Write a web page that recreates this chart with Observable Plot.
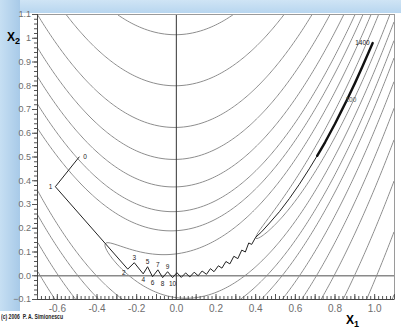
<!DOCTYPE html>
<html><head><meta charset="utf-8">
<script src="https://cdn.jsdelivr.net/npm/d3@7"></script>
<script src="https://cdn.jsdelivr.net/npm/@observablehq/plot@0.6"></script>
<style>
body{margin:0;background:#fff;}
#wrap{position:relative;width:401px;height:328px;overflow:hidden;background:#fff;font-family:"Liberation Sans",Arial,sans-serif;}
#topband{position:absolute;left:0;top:0;width:401px;height:13px;background:linear-gradient(#cfe4f5,#b8d6ef);}
#leftband{position:absolute;left:0;top:0;width:20px;height:311px;background:linear-gradient(to right,#c6dff3,#a8cae8);}
#chart{position:absolute;left:0;top:0;}
.lab{position:absolute;font-weight:bold;color:#000;line-height:1;}
.lab sub{font-size:9px;vertical-align:-3px;}
#copy{position:absolute;left:1px;top:314px;font-size:6.5px;font-weight:bold;color:#222;transform-origin:0 0;transform:scaleX(0.78);white-space:nowrap;line-height:1;}
</style></head>
<body><div id="wrap"><div id="topband"></div><div id="leftband"></div><div id="chart"></div>
<div class="lab" style="left:7px;top:31px;font-size:12px">X<sub>2</sub></div>
<div class="lab" style="left:346px;top:314px;font-size:12px">X<sub>1</sub></div>
<div id="copy">(c) 2006&nbsp; P. A. Simionescu</div>
</div>
<script>
// contour levels of the Rosenbrock surface
const contourLevels = [0.36, 1.85, 4.6, 8.3, 15, 25, 40, 65, 104, 165];
const xTickValues = [-0.6, -0.4, -0.2, 0, 0.2, 0.4, 0.6, 0.8, 1.0];
const xTickLabels = ["-0.6", "-0.4", "-0.2", "0.0", "0.2", "0.4", "0.6", "0.8", "1.0"];
const yTickValues = [-0.1, 0, 0.1, 0.2, 0.3, 0.4, 0.5, 0.6, 0.7, 0.8, 0.9, 1.0, 1.1];
const yTickLabels = ["\u22120.1", "0.0", "0.1", "0.2", "0.3", "0.4", "0.5", "0.6", "0.7", "0.8", "0.9", "1", "1.1"];
// optimisation path (iterates)
const pathX = [-0.49, -0.61, -0.245, -0.212, -0.167, -0.145, -0.12, -0.093, -0.069, -0.044, -0.019,
  0.003, 0.025, 0.047, 0.068, 0.09, 0.11, 0.13, 0.152, 0.172, 0.19, 0.212, 0.23, 0.25, 0.27, 0.29, 0.31, 0.33, 0.348, 0.365, 0.38,
  0.4, 0.43, 0.47, 0.52, 0.57, 0.62, 0.67, 0.71,
  0.75, 0.8, 0.83, 0.86, 0.9, 0.94, 0.99];
const pathY = [0.50, 0.375, 0.028, 0.055, 0.008, 0.038, -0.004, 0.025, -0.008, 0.017, -0.008,
  0.013, -0.007, 0.012, -0.005, 0.015, 0.0, 0.02, 0.006, 0.03, 0.017, 0.042, 0.032, 0.06, 0.05, 0.082, 0.072, 0.108, 0.1, 0.138, 0.132,
  0.162, 0.185, 0.222, 0.27, 0.325, 0.385, 0.45, 0.505,
  0.562, 0.64, 0.69, 0.74, 0.81, 0.884, 0.98];
const pathLabels = ["0", "1", "2", "3", "4", "5", "6", "7", "8", "9", "10",
  "", "", "", "", "", "", "", "", "", "", "", "", "", "", "", "", "", "", "", "",
  "", "", "", "", "", "", "", "",
  "", "", "", "100", "", "", "1400"];

const rosenbrock = (x, y) => 100 * (y - x * x) ** 2 + (1 - x) ** 2;
const pts = pathX.map((x, i) => ({x, y: pathY[i], label: pathLabels[i], i}));
const thickStart = pts.findIndex(d => d.x >= 0.71);
const thick = pts.slice(thickStart);
const labeled = pts.filter(d => d.label !== "");
const W = 401, H = 328, mL = 37, mR = 7, mT = 14, mB = 29;
const plotH = H - mT - mB;
const minorX = d3.range(-35, 56).map(k => k / 50);
const majorX = d3.range(-7, 12).map(k => k / 10);
const minorY = d3.range(-5, 56).map(k => k / 50);
const yFmt = new Map(yTickValues.map((v, i) => [v, yTickLabels[i]]));
const xFmt = new Map(xTickValues.map((v, i) => [v, xTickLabels[i]]));

const isNum = d => /^\d+$/.test(d.label) && +d.label >= 3 && +d.label <= 10;
const txt = {x: "x", y: "y", text: "label", fontSize: 6.5, fill: "#222"};

const chart = Plot.plot({
  width: W, height: H, marginLeft: mL, marginRight: mR, marginTop: mT, marginBottom: mB,
  style: {background: "transparent", fontFamily: "'Liberation Sans', Arial, sans-serif"},
  x: {domain: [-0.7, 1.1]},
  y: {domain: [-0.1, 1.1]},
  marks: [
    Plot.contour({x1: -0.7, x2: 1.1, y1: -0.1, y2: 1.1, value: rosenbrock, thresholds: contourLevels,
      fill: "none", stroke: "#8e8e8e", strokeWidth: 1, pixelSize: 1}),
    Plot.ruleY([0], {stroke: "#8a8a8a", strokeWidth: 1.3}),
    Plot.ruleX([0], {stroke: "#333", strokeWidth: 1}),
    Plot.frame({stroke: "#9a9a9a"}),
    Plot.ruleX([-0.7], {stroke: "#444"}),
    Plot.ruleY([-0.1], {stroke: "#444"}),
    Plot.ruleX(minorX, {insetTop: plotH - 3, stroke: "#555"}),
    Plot.ruleX(majorX, {insetTop: plotH - 5, stroke: "#555"}),
    Plot.axisY(minorY, {tickSize: 3, tickFormat: () => "", stroke: "#555", label: null}),
    Plot.axisY(yTickValues, {tickSize: 5, tickPadding: 1.5, tickFormat: d => yFmt.get(d), fontSize: 9, fill: "#6e6e6e", stroke: "#555", label: null}),
    Plot.axisX(xTickValues, {tickSize: 0, tickPadding: 5, tickFormat: d => xFmt.get(d), fontSize: 10, fill: "#6e6e6e", label: null}),
    Plot.line(pts, {x: "x", y: "y", stroke: "#222", strokeWidth: 1}),
    Plot.line(thick, {x: "x", y: "y", stroke: "#111", strokeWidth: 2.4}),
    Plot.text(labeled, {...txt, filter: d => d.label === "0", dx: 4, textAnchor: "start"}),
    Plot.text(labeled, {...txt, filter: d => d.label === "1" || d.label === "1400", dx: -3, textAnchor: "end"}),
    Plot.text(labeled, {...txt, filter: d => d.label === "2", dx: -2, dy: 4, textAnchor: "end"}),
    Plot.text(labeled, {...txt, filter: d => isNum(d) && +d.label % 2 === 1, dy: -5}),
    Plot.text(labeled, {...txt, filter: d => isNum(d) && +d.label % 2 === 0, dy: 6}),
    Plot.text(labeled, {...txt, filter: d => d.label === "100", dx: 4, fill: "#555"})
  ]
});
document.getElementById("chart").appendChild(chart);
</script>
</body></html>
